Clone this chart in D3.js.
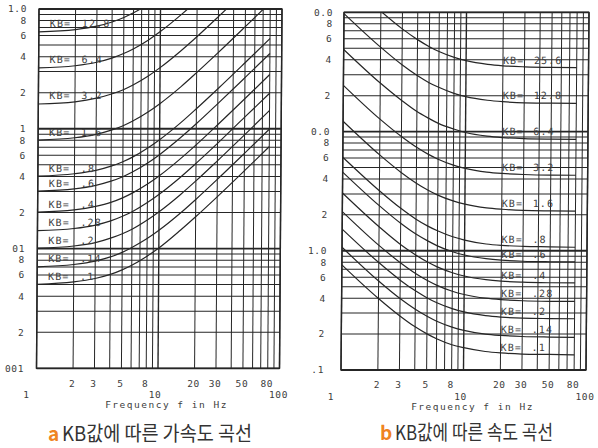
<!DOCTYPE html>
<html><head><meta charset="utf-8">
<script src="https://cdn.jsdelivr.net/npm/d3@7"></script>
<style>body{margin:0;background:#fff}svg{display:block}</style>
</head><body>
<svg id="c" width="598" height="448"></svg>
<script>
// ---- data ----
const freqs = [1, 2, 3, 4, 5, 6, 8, 10, 15, 20, 30, 50, 80];

const accelKB = ["12.8", "6.4", "3.2", "1.6", ".8", ".6", ".4", ".28", ".2", ".14", ".1"];
const accelKB128 = [0.644, 0.673, 0.719, 0.779, 0.850, 0.929, 1.105, 1.297, 1.812, 2.350, 3.453, 5.693, 9.075];
const accelKB64  = [0.322, 0.336, 0.359, 0.389, 0.425, 0.464, 0.552, 0.648, 0.906, 1.175, 1.727, 2.846, 4.537];
const accelKB32  = [0.161, 0.168, 0.180, 0.195, 0.212, 0.232, 0.276, 0.324, 0.453, 0.587, 0.863, 1.423, 2.268];
const accelKB16  = [0.0805, 0.0841, 0.0899, 0.0973, 0.106, 0.116, 0.138, 0.162, 0.226, 0.294, 0.432, 0.712, 1.134];
const accelKB08  = [0.0402, 0.0421, 0.0449, 0.0487, 0.0531, 0.0580, 0.0691, 0.0810, 0.113, 0.147, 0.216, 0.356, 0.567];
const accelKB06  = [0.0302, 0.0315, 0.0337, 0.0365, 0.0398, 0.0435, 0.0518, 0.0608, 0.0849, 0.110, 0.162, 0.267, 0.425];
const accelKB04  = [0.0201, 0.0210, 0.0225, 0.0243, 0.0265, 0.0290, 0.0345, 0.0405, 0.0566, 0.0734, 0.108, 0.178, 0.284];
const accelKB028 = [0.0141, 0.0147, 0.0157, 0.0170, 0.0186, 0.0203, 0.0242, 0.0284, 0.0396, 0.0514, 0.0755, 0.125, 0.198];
const accelKB02  = [0.0101, 0.0105, 0.0112, 0.0122, 0.0133, 0.0145, 0.0173, 0.0203, 0.0283, 0.0367, 0.0540, 0.0889, 0.142];
const accelKB014 = [0.00704, 0.00736, 0.00786, 0.00852, 0.00929, 0.0102, 0.0121, 0.0142, 0.0198, 0.0257, 0.0378, 0.0623, 0.0992];
const accelKB01  = [0.00503, 0.00526, 0.00562, 0.00608, 0.00664, 0.00725, 0.00863, 0.0101, 0.0142, 0.0184, 0.0270, 0.0445, 0.0709];

const velKB = ["25.6", "12.8", "6.4", "3.2", "1.6", ".8", ".6", ".4", ".28", ".2", ".14", ".1"];
const velKB256 = [195.0, 101.9, 72.6, 59.0, 51.5, 46.9, 41.9, 39.3, 36.6, 35.6, 34.9, 34.5, 34.4];
const velKB128 = [97.5, 51.0, 36.3, 29.5, 25.7, 23.5, 20.9, 19.6, 18.3, 17.8, 17.4, 17.3, 17.2];
const velKB64  = [48.8, 25.5, 18.2, 14.7, 12.9, 11.7, 10.5, 9.82, 9.15, 8.90, 8.72, 8.63, 8.59];
const velKB32  = [24.4, 12.7, 9.08, 7.37, 6.43, 5.86, 5.23, 4.91, 4.57, 4.45, 4.36, 4.31, 4.30];
const velKB16  = [12.2, 6.37, 4.54, 3.69, 3.22, 2.93, 2.62, 2.46, 2.29, 2.23, 2.18, 2.16, 2.15];
const velKB08  = [6.09, 3.19, 2.27, 1.84, 1.61, 1.47, 1.31, 1.23, 1.14, 1.11, 1.09, 1.08, 1.07];
const velKB06  = [4.57, 2.39, 1.70, 1.38, 1.21, 1.10, 0.981, 0.921, 0.858, 0.834, 0.817, 0.809, 0.806];
const velKB04  = [3.05, 1.59, 1.13, 0.922, 0.804, 0.733, 0.654, 0.614, 0.572, 0.556, 0.545, 0.539, 0.537];
const velKB028 = [2.13, 1.11, 0.794, 0.645, 0.563, 0.513, 0.458, 0.430, 0.400, 0.389, 0.381, 0.377, 0.376];
const velKB02  = [1.52, 0.796, 0.567, 0.461, 0.402, 0.366, 0.327, 0.307, 0.286, 0.278, 0.272, 0.270, 0.269];
const velKB014 = [1.07, 0.557, 0.397, 0.323, 0.282, 0.256, 0.229, 0.215, 0.200, 0.195, 0.191, 0.189, 0.188];
const velKB01  = [0.762, 0.398, 0.284, 0.230, 0.201, 0.183, 0.163, 0.154, 0.143, 0.139, 0.136, 0.135, 0.134];

const xMinorTicks = [2, 3, 5, 8, 20, 30, 50, 80];
const xMajorTicks = [1, 10, 100];
const xTitle = "Frequency f in Hz";

const accelYTicks  = [1, 0.8, 0.6, 0.4, 0.2, 0.1, 0.08, 0.06, 0.04, 0.02, 0.01, 0.008, 0.006, 0.004, 0.002, 0.001];
const accelYLabels = ["1.0", "8", "6", "4", "2", "1", "8", "6", "4", "2", "01", "8", "6", "4", "2", "001"];
const velYTicks  = [100, 80, 60, 40, 20, 10, 8, 6, 4, 2, 1, 0.8, 0.6, 0.4, 0.2, 0.1];
const velYLabels = ["0.0", "8", "6", "4", "2", "0.0", "8", "6", "4", "2", "1.0", "8", "6", "4", "2", ".1"];

const captionLetters = ["a", "b"];
const captionTexts = ["KB값에 따른 가속도 곡선", "KB값에 따른 속도 곡선"];

// ---- drawing ----
const svg = d3.select("#c");
const MONO = "'DejaVu Sans Mono', 'Liberation Mono', monospace";
const INK = "#262626";
const TXT = "#3c3c3c";

const panels = [
  { id: "a", x0: 39, x1: 282, y0: 9, y1: 368.3, ydom: [0.001, 1],
    kb: accelKB,
    series: [accelKB128, accelKB64, accelKB32, accelKB16, accelKB08, accelKB06, accelKB04, accelKB028, accelKB02, accelKB014, accelKB01],
    yt: accelYTicks, yl: accelYLabels, ylabX: 27, ylabSkew: -3, skew: -2.5,
    labelSide: "left", labX1: 11, labX2: 43,
    row1: 384, row2: 394.5, title: 404.5, cap: 434, letX: 48, capX: 62, capLen: 190 },
  { id: "b", x0: 344, x1: 589, y0: 12.3, y1: 370, ydom: [0.1, 100],
    kb: velKB,
    series: [velKB256, velKB128, velKB64, velKB32, velKB16, velKB08, velKB06, velKB04, velKB028, velKB02, velKB014, velKB01],
    yt: velYTicks, yl: velYLabels, ylabX: 333, ylabSkew: -9, skew: -3,
    labelSide: "right", labX1: 0, labX2: 31,
    row1: 385, row2: 396.5, title: 406.5, cap: 433, letX: 380, capX: 395, capLen: 158 }
];

panels.forEach((p, pi) => {
  const x = d3.scaleLog().domain([1, 100]).range([p.x0, p.x1]);
  const y = d3.scaleLog().domain(p.ydom).range([p.y1, p.y0]);
  const H = p.y1 - p.y0;
  const ang = Math.atan(p.skew / H) * 180 / Math.PI;
  const g = svg.append("g")
    .attr("transform", `translate(0,${p.y0}) skewX(${ang}) translate(0,${-p.y0})`);

  const clipId = "clip" + p.id;
  g.append("clipPath").attr("id", clipId)
    .append("rect").attr("x", p.x0).attr("y", p.y0)
    .attr("width", p.x1 - p.x0).attr("height", H);

  // grid
  const xt = x.ticks();
  const yt = y.ticks();
  const isDec = v => Math.abs(Math.log10(v) - Math.round(Math.log10(v))) < 1e-6;
  g.append("g").selectAll("line").data(xt).join("line")
    .attr("x1", d => x(d)).attr("x2", d => x(d))
    .attr("y1", p.y0).attr("y2", p.y1)
    .attr("stroke", INK).attr("stroke-width", d => isDec(d) ? 1.4 : 1);
  g.append("g").selectAll("line").data(yt).join("line")
    .attr("x1", p.x0).attr("x2", p.x1)
    .attr("y1", d => y(d)).attr("y2", d => y(d))
    .attr("stroke", INK).attr("stroke-width", d => isDec(d) ? 1.8 : 1);
  g.append("rect").attr("x", p.x0).attr("y", p.y0)
    .attr("width", p.x1 - p.x0).attr("height", H)
    .attr("fill", "none").attr("stroke", INK).attr("stroke-width", 1.3);

  // curves
  const line = d3.line()
    .x((d, i) => x(freqs[i])).y(d => y(d))
    .curve(d3.curveMonotoneX);
  g.append("g").attr("clip-path", `url(#${clipId})`)
    .selectAll("path").data(p.series).join("path")
    .attr("d", line).attr("fill", "none")
    .attr("stroke", INK).attr("stroke-width", 1.2);

  // KB labels
  const lab = g.append("g").attr("font-family", MONO).attr("font-size", 10)
    .attr("fill", TXT).attr("letter-spacing", 1.1);
  p.series.forEach((s, k) => {
    const yy = p.labelSide === "left" ? y(s[0]) - 4.5 : y(s[s.length - 1]) - 4;
    const bx = p.labelSide === "left" ? p.x0 : x(20);
    lab.append("text").attr("x", bx + p.labX1).attr("y", yy).text("KB=");
    lab.append("text").attr("x", bx + p.labX2).attr("y", yy).text(p.kb[k]);
  });

  // y tick labels
  const yl = svg.append("g").attr("font-family", MONO).attr("font-size", 9.5)
    .attr("fill", TXT).attr("text-anchor", "end").attr("letter-spacing", 0.6);
  p.yt.forEach((v, i) => {
    const yy = y(v);
    const xx = p.ylabX + p.ylabSkew * (yy - p.y0) / H;
    yl.append("text").attr("x", xx).attr("y", yy).attr("dy", "0.35em").text(p.yl[i]);
  });

  // x tick labels
  const xl = svg.append("g").attr("font-family", MONO).attr("font-size", 9.5)
    .attr("fill", TXT).attr("text-anchor", "middle").attr("letter-spacing", 0.6);
  xMinorTicks.forEach(v => {
    xl.append("text").attr("x", x(v) + p.skew - 1).attr("y", p.row1).attr("dy", "0.35em").text(v);
  });
  const majOff = [-10, -3, -1];
  xMajorTicks.forEach((v, i) => {
    xl.append("text").attr("x", x(v) + p.skew + majOff[i]).attr("y", p.row2).attr("dy", "0.35em").text(v);
  });
  svg.append("text").attr("x", (p.x0 + p.x1) / 2 + 6).attr("y", p.title).attr("dy", "0.35em")
    .attr("font-family", MONO).attr("font-size", 9.5).attr("letter-spacing", 1.5)
    .attr("fill", TXT).attr("text-anchor", "middle").text(xTitle);

  // caption
  svg.append("text").attr("x", p.letX).attr("y", p.cap).attr("dy", "0.36em")
    .attr("font-family", "'Noto Sans CJK KR', 'Noto Sans', sans-serif").attr("font-size", 19)
    .attr("fill", "#ef8422").attr("font-weight", 700).text(captionLetters[pi]);
  svg.append("text").attr("x", p.capX).attr("y", p.cap).attr("dy", "0.36em")
    .attr("font-family", "'Noto Sans CJK KR', 'Noto Sans', sans-serif").attr("font-size", 20)
    .attr("fill", "#333").attr("font-weight", 400)
    .attr("textLength", p.capLen).attr("lengthAdjust", "spacingAndGlyphs")
    .text(captionTexts[pi]);
});
</script>
</body></html>
